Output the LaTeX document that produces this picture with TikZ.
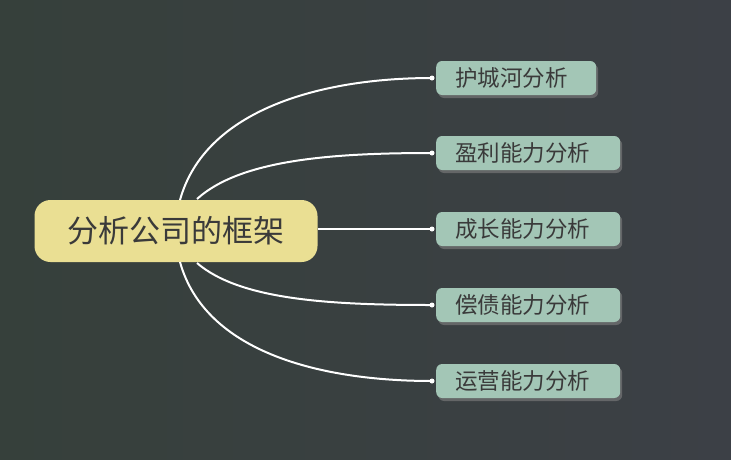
\documentclass[tikz,border=0pt]{standalone}
\usepackage{fontspec}
\newfontfamily\cjk{Noto Sans CJK SC}
\usetikzlibrary{shadows}
\definecolor{bgA}{HTML}{36403B}
\definecolor{bgB}{HTML}{3C4046}
\definecolor{mainfill}{HTML}{EADF93}
\definecolor{subfill}{HTML}{A3C6B6}
\definecolor{txt}{HTML}{3A3A3A}
\tikzset{
  mainbox/.style={fill=mainfill,rounded corners=16pt,minimum width=283pt,minimum height=62pt,font=\cjk\fontsize{31}{34}\selectfont,text=txt},
  subbox/.style={fill=subfill,rounded corners=6pt,minimum height=34pt,anchor=west,font=\cjk\fontsize{22.5}{24}\selectfont,text=txt,inner xsep=0pt,text width=#1,align=left,drop shadow={shadow xshift=2pt,shadow yshift=-3pt,opacity=0.6}},
  link/.style={draw=white,line width=2pt},
  dot/.style={circle,fill=white,inner sep=0pt,minimum size=5pt}
}
\begin{document}
\begin{tikzpicture}[x=1pt,y=-1pt]
\shade[left color=bgA,right color=bgB] (0,0) rectangle (731,459);
\useasboundingbox (0,0) rectangle (731,459);
\node[mainbox] (m) at (176,231) {分析公司的框架};
\node[subbox=160pt] (a) at (436,78) {\hspace*{19pt}护城河分析};
\node[subbox=184pt] (b) at (436,153) {\hspace*{19pt}盈利能力分析};
\node[subbox=184pt] (c) at (436,229) {\hspace*{19pt}成长能力分析};
\node[subbox=184pt] (d) at (436,305) {\hspace*{19pt}偿债能力分析};
\node[subbox=184pt] (e) at (436,381) {\hspace*{19pt}运营能力分析};
\coordinate (s1) at (180,200); \coordinate (s2) at (197,199);
\coordinate (s4) at (197,263); \coordinate (s5) at (180,262);
\node[dot] (pa) at ([xshift=-4pt]a.west) {};
\node[dot] (pb) at ([xshift=-4pt]b.west) {};
\node[dot] (pc) at ([xshift=-4pt]c.west) {};
\node[dot] (pd) at ([xshift=-4pt]d.west) {};
\node[dot] (pe) at ([xshift=-4pt]e.west) {};
\draw[link] (s1) .. controls (205,110) and (320,78) .. (pa.center);
\draw[link] (s2) .. controls (240,160) and (330,153) .. (pb.center);
\draw[link] (m.east |- pc) -- (pc.center);
\draw[link] (s4) .. controls (240,300) and (330,305) .. (pd.center);
\draw[link] (s5) .. controls (205,352) and (320,381) .. (pe.center);
\end{tikzpicture}
\end{document}
